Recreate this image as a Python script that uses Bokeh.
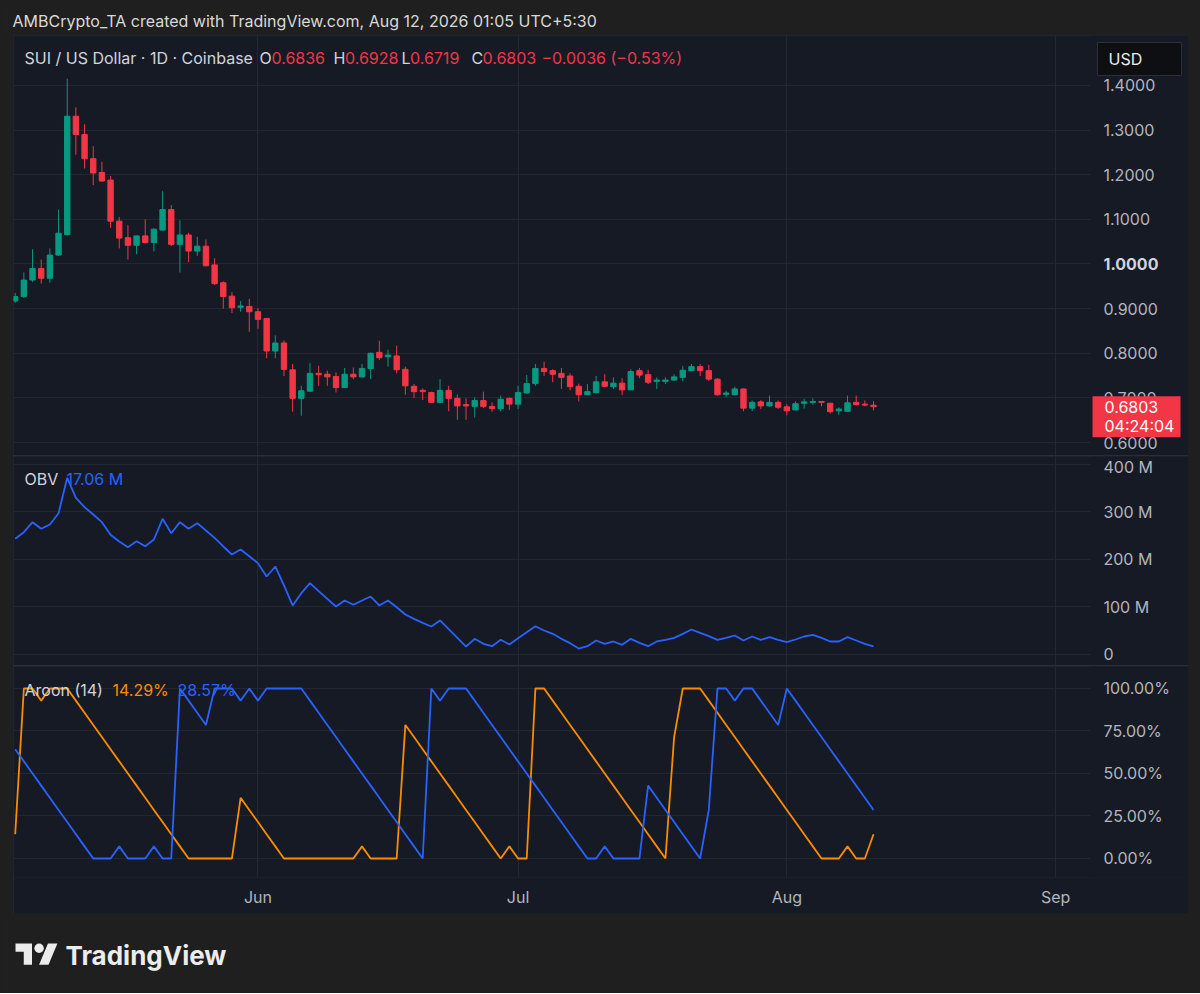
import pandas as pd
from bokeh.plotting import figure
from bokeh.models import (Range1d, FixedTicker, PrintfTickFormatter, DatetimeTickFormatter,
                          Label, ColumnDataSource, Spacer)
from bokeh.layouts import column, row
from bokeh.embed import file_html
from bokeh.resources import INLINE

# ---------------- data ----------------
start_date = "2026-05-04"

opens = [0.917, 0.927, 0.964, 0.990, 0.968, 1.020, 1.066, 1.331, 1.290, 1.236,
         1.205, 1.188, 1.096, 1.059, 1.042, 1.063, 1.048, 1.076, 1.122, 1.044,
         1.065, 1.029, 1.040, 0.998, 0.958, 0.928, 0.903, 0.905, 0.893, 0.878,
         0.805, 0.823, 0.763, 0.699, 0.715, 0.755, 0.753, 0.748, 0.723, 0.753,
         0.747, 0.766, 0.802, 0.792, 0.794, 0.764, 0.726, 0.717, 0.712, 0.690,
         0.717, 0.699, 0.685, 0.681, 0.694, 0.681, 0.676, 0.699, 0.686, 0.711,
         0.732, 0.766, 0.761, 0.755, 0.749, 0.726, 0.707, 0.712, 0.736, 0.725,
         0.733, 0.718, 0.761, 0.752, 0.737, 0.737, 0.740, 0.746, 0.761, 0.770,
         0.761, 0.742, 0.708, 0.707, 0.720, 0.677, 0.691, 0.682, 0.690, 0.680,
         0.673, 0.688, 0.690, 0.692, 0.688, 0.671, 0.670, 0.690, 0.686, 0.6836]
highs = [0.935, 0.981, 1.033, 1.010, 1.035, 1.122, 1.415, 1.351, 1.313, 1.264,
         1.229, 1.197, 1.105, 1.087, 1.064, 1.100, 1.080, 1.163, 1.132, 1.098,
         1.070, 1.061, 1.055, 1.013, 0.961, 0.937, 0.917, 0.922, 0.901, 0.878,
         0.840, 0.829, 0.776, 0.727, 0.778, 0.772, 0.761, 0.757, 0.767, 0.768,
         0.776, 0.801, 0.828, 0.808, 0.817, 0.770, 0.731, 0.721, 0.714, 0.742,
         0.727, 0.708, 0.699, 0.701, 0.714, 0.690, 0.705, 0.701, 0.727, 0.751,
         0.776, 0.781, 0.764, 0.767, 0.755, 0.732, 0.731, 0.749, 0.753, 0.746,
         0.744, 0.764, 0.767, 0.763, 0.746, 0.746, 0.753, 0.772, 0.776, 0.776,
         0.774, 0.744, 0.716, 0.725, 0.721, 0.694, 0.695, 0.705, 0.694, 0.686,
         0.692, 0.698, 0.699, 0.692, 0.689, 0.679, 0.705, 0.705, 0.694, 0.6928]
lows = [0.913, 0.924, 0.960, 0.956, 0.958, 1.018, 1.064, 1.245, 1.214, 1.177,
        1.184, 1.081, 1.035, 1.010, 1.022, 1.046, 1.028, 1.075, 1.040, 0.981,
        1.004, 1.018, 0.995, 0.953, 0.900, 0.890, 0.893, 0.848, 0.855, 0.789,
        0.789, 0.749, 0.669, 0.660, 0.714, 0.727, 0.727, 0.712, 0.722, 0.742,
        0.745, 0.742, 0.785, 0.770, 0.755, 0.707, 0.700, 0.695, 0.689, 0.689,
        0.670, 0.651, 0.651, 0.656, 0.677, 0.669, 0.670, 0.673, 0.675, 0.709,
        0.727, 0.749, 0.735, 0.720, 0.717, 0.692, 0.706, 0.710, 0.725, 0.720,
        0.706, 0.717, 0.744, 0.731, 0.720, 0.731, 0.738, 0.737, 0.760, 0.749,
        0.738, 0.705, 0.701, 0.706, 0.670, 0.671, 0.675, 0.680, 0.675, 0.661,
        0.672, 0.676, 0.685, 0.681, 0.665, 0.662, 0.669, 0.683, 0.681, 0.6719]
closes = [0.927, 0.964, 0.990, 0.968, 1.020, 1.069, 1.331, 1.290, 1.236, 1.204,
          1.186, 1.096, 1.058, 1.042, 1.063, 1.048, 1.078, 1.122, 1.044, 1.065,
          1.029, 1.040, 0.996, 0.956, 0.927, 0.902, 0.906, 0.893, 0.876, 0.805,
          0.823, 0.764, 0.699, 0.716, 0.755, 0.752, 0.747, 0.723, 0.753, 0.747,
          0.766, 0.800, 0.790, 0.796, 0.763, 0.727, 0.714, 0.714, 0.690, 0.717,
          0.699, 0.682, 0.682, 0.694, 0.681, 0.676, 0.697, 0.686, 0.712, 0.732,
          0.766, 0.759, 0.753, 0.746, 0.725, 0.707, 0.714, 0.736, 0.726, 0.733,
          0.718, 0.759, 0.751, 0.735, 0.740, 0.740, 0.747, 0.762, 0.770, 0.761,
          0.742, 0.707, 0.711, 0.720, 0.677, 0.690, 0.682, 0.690, 0.679, 0.671,
          0.687, 0.691, 0.692, 0.690, 0.669, 0.675, 0.689, 0.685, 0.6839, 0.6803]

obv_millions = [243.6, 257.5, 278.6, 264.6, 273.7, 297.5, 372.0, 329.9, 310.2, 294.7,
                278.6, 252.0, 237.9, 225.9, 238.6, 228.0, 242.1, 285.6, 255.4, 278.6,
                264.6, 276.5, 261.1, 245.6, 227.4, 210.5, 221.0, 206.9, 192.3, 164.2,
                185.3, 145.3, 103.2, 129.1, 150.2, 133.3, 117.2, 101.1, 113.7, 104.6,
                113.7, 122.1, 103.2, 113.7, 99.6, 84.2, 75.1, 66.7, 58.9, 71.6,
                53.3, 35.1, 16.8, 33.0, 22.5, 17.5, 30.9, 21.1, 34.4, 47.0,
                59.6, 50.5, 43.5, 33.0, 23.9, 12.6, 17.5, 29.5, 22.5, 27.4,
                20.4, 33.0, 24.6, 17.5, 27.4, 30.9, 35.1, 43.5, 52.6, 45.6,
                38.6, 30.9, 35.1, 40.0, 29.5, 37.9, 30.9, 36.5, 30.9, 25.9,
                31.6, 37.9, 41.5, 35.1, 27.4, 27.4, 36.5, 29.5, 22.5, 17.06]

aroon_up = [14.29, 100, 100, 92.86, 100, 100, 100, 92.86, 85.71, 78.57,
            71.43, 64.29, 57.14, 50, 42.86, 35.71, 28.57, 21.43, 14.29, 7.14,
            0, 0, 0, 0, 0, 0, 35.71, 28.57, 21.43, 14.29,
            7.14, 0, 0, 0, 0, 0, 0, 0, 0, 0,
            7.14, 0, 0, 0, 0, 78.57, 71.43, 64.29, 57.14, 50,
            42.86, 35.71, 28.57, 21.43, 14.29, 7.14, 0, 7.14, 0, 0,
            100, 100, 92.86, 85.71, 78.57, 71.43, 64.29, 57.14, 50, 42.86,
            35.71, 28.57, 21.43, 14.29, 7.14, 0, 71.43, 100, 100, 100,
            92.86, 85.71, 78.57, 71.43, 64.29, 57.14, 50, 42.86, 35.71, 28.57,
            21.43, 14.29, 7.14, 0, 0, 0, 7.14, 0, 0, 14.29]
aroon_down = [64.29, 57.14, 50, 42.86, 35.71, 28.57, 21.43, 14.29, 7.14, 0,
              0, 0, 7.14, 0, 0, 0, 7.14, 0, 0, 100,
              92.86, 85.71, 78.57, 100, 100, 100, 92.86, 100, 92.86, 100,
              100, 100, 100, 100, 92.86, 85.71, 78.57, 71.43, 64.29, 57.14,
              50, 42.86, 35.71, 28.57, 21.43, 14.29, 7.14, 0, 100, 92.86,
              100, 100, 100, 92.86, 85.71, 78.57, 71.43, 64.29, 57.14, 50,
              42.86, 35.71, 28.57, 21.43, 14.29, 7.14, 0, 0, 7.14, 0,
              0, 0, 0, 42.86, 35.71, 28.57, 21.43, 14.29, 7.14, 0,
              28.57, 100, 100, 92.86, 100, 100, 92.86, 85.71, 78.57, 100,
              92.86, 85.71, 78.57, 71.43, 64.29, 57.14, 50, 42.86, 35.71, 28.57]

price_ticks = [0.6, 0.7, 0.8, 0.9, 1.0, 1.1, 1.2, 1.3, 1.4]
obv_ticks = [0, 100, 200, 300, 400]
obv_tick_labels = ["0", "100 M", "200 M", "300 M", "400 M"]
aroon_ticks = [0, 25, 50, 75, 100]
month_starts = ["2026-06-01", "2026-07-01", "2026-08-01", "2026-09-01"]

page_header = "AMBCrypto_TA created with TradingView.com, Aug 12, 2026 01:05 UTC+5:30"
symbol_title = "SUI / US Dollar \u00b7 1D \u00b7 Coinbase"
countdown = "04:24:04"

# ---------------- style / layout ----------------
OUTER = "#1f1f1f"
BG = "#161a25"
GRID = "#232733"
SEP = "#2a2e39"
TXT = "#b2b5be"
LEG = "#d1d4dc"
UP = "#089981"
DOWN = "#f23645"
BLUE = "#2962ff"
ORANGE = "#fb8c00"
FONT = "Inter"
FS = "16px"

PAGE_W = 1200
LEFT_PAD = 13
CHART_W = 1175          # whole pane incl. price scale
MAIN_W = 1077           # plotting area left of the price scale
H_HEAD, H_PRICE, H_OBV, H_AROON, H_FOOT = 35, 420, 209, 247, 80
AROON_FRAME = 211
PX_PER_DAY = 8.67
FIRST_OFFSET_PX = 1.7   # first candle centre from the pane's left edge

DAY_MS = 86400000
t0_ms = pd.Timestamp(start_date).value / 1e6
dates = pd.date_range(start_date, periods=len(opens), freq="D")
month_ms = [pd.Timestamp(m).value / 1e6 for m in month_starts]


def x_at(px):
    return t0_ms + (px - FIRST_OFFSET_PX) / PX_PER_DAY * DAY_MS


xr = Range1d(start=x_at(0), end=x_at(CHART_W))
AXIS_X = x_at(MAIN_W)

src = ColumnDataSource(dict(
    date=dates, high=highs, low=lows,
    top=[max(o, c) for o, c in zip(opens, closes)],
    bottom=[min(o, c) for o, c in zip(opens, closes)],
    color=[UP if c >= o else DOWN for o, c in zip(opens, closes)],
    obv=obv_millions, aup=aroon_up, adn=aroon_down))


def style_axis(ax):
    ax.axis_line_color = None
    ax.major_tick_line_color = None
    ax.minor_tick_line_color = None
    ax.major_tick_in = 0
    ax.major_tick_out = 0
    ax.minor_tick_in = 0
    ax.minor_tick_out = 0
    ax.major_label_text_color = TXT
    ax.major_label_text_font = FONT
    ax.major_label_text_font_size = FS


def pane(height, y0, y1, ticks, bottom=0, with_xaxis=False):
    p = figure(width=CHART_W, height=height, x_axis_type="datetime",
               x_axis_location="below" if with_xaxis else None,
               y_axis_location="right", x_range=xr, y_range=Range1d(y0, y1),
               output_backend="svg", toolbar_location=None,
               background_fill_color=BG, border_fill_color=BG, outline_line_color=None,
               min_border_left=0, min_border_right=0, min_border_top=0,
               min_border_bottom=bottom)
    p.xgrid.ticker = FixedTicker(ticks=month_ms)
    p.grid.grid_line_color = GRID
    ax = p.yaxis[0]
    ax.ticker = FixedTicker(ticks=ticks)
    ax.fixed_location = AXIS_X
    style_axis(ax)
    ax.major_label_standoff = 13
    # price-scale strip: plain background (grid lines stop at the scale)
    span = y1 - y0
    p.quad(left=[AXIS_X], right=[x_at(CHART_W + 20)], bottom=[y0 - span], top=[y1 + span],
           fill_color=BG, line_color=None)
    if with_xaxis:
        xa = p.xaxis[0]
        xa.ticker = FixedTicker(ticks=month_ms)
        xa.formatter = DatetimeTickFormatter(days="%b", months="%b", years="%b")
        style_axis(xa)
        xa.major_label_standoff = 9
    return p


def y_at(p, px, frame_h=None):
    h = frame_h if frame_h else p.height
    r = p.y_range
    return r.end - px / h * (r.end - r.start)


def text(p, x, y, s, color, size=FS, bold=False, level="annotation"):
    p.add_layout(Label(x=x, y=y, x_units="screen", y_units="data", text=s,
                       text_color=color, text_font=FONT, text_font_size=size,
                       text_font_style="bold" if bold else "normal",
                       text_baseline="middle", text_align="left", level=level))


def box(p, px0, px1, py0, py1, fill, line=None):
    p.quad(left=[x_at(px0)], right=[x_at(px1)], top=[y_at(p, py0)], bottom=[y_at(p, py1)],
           fill_color=fill, line_color=line, level="annotation")


# ---------------- price pane ----------------
price = pane(H_PRICE, 0.5709, 1.5120, price_ticks)
price.yaxis[0].formatter = PrintfTickFormatter(format="%.4f")
price.yaxis[0].major_label_overrides = {1: ""}
price.segment(x0="date", y0="low", x1="date", y1="high", color="color", line_width=1, source=src)
price.vbar(x="date", width=0.62 * DAY_MS, top="top", bottom="bottom",
           fill_color="color", line_color="color", line_width=1, source=src)

text(price, MAIN_W + 13, 1.0, "1.0000", LEG, bold=True)

ly = y_at(price, 22)
text(price, 11, ly, symbol_title, LEG)
chg = closes[-1] - closes[-2]
pct = chg / closes[-2] * 100
ohlc_col = UP if closes[-1] >= opens[-1] else DOWN
for lx, letter, vx, val in [(246, "O", 258, opens[-1]), (320, "H", 331.5, highs[-1]),
                            (388, "L", 396.5, lows[-1]), (458, "C", 469, closes[-1])]:
    text(price, lx, ly, letter, LEG)
    text(price, vx, ly, f"{val:.4f}", ohlc_col)
text(price, 528, ly, f"{chg:+.4f} ({pct:+.2f}%)".replace("-", "\u2212"), ohlc_col)

# currency button and last-price tag on the price scale
box(price, 1084, 1168, 7, 40, "#0e0f12", "#2c2f38")
text(price, 1095, y_at(price, 23.5), "USD", "#ececec", level="overlay")
box(price, 1079, 1167, 360.7, 401.7, DOWN)
text(price, 1091, y_at(price, 371), f"{closes[-1]:.4f}", "#ffffff", level="overlay")
text(price, 1091, y_at(price, 390), countdown, "#ffffff", level="overlay")

# ---------------- OBV pane ----------------
obv = pane(H_OBV, -23.16, 416.84, obv_ticks)
obv.yaxis[0].major_label_overrides = dict(zip(obv_ticks, obv_tick_labels))
obv.line("date", "obv", source=src, color=BLUE, line_width=1.8)
oy = y_at(obv, 22)
text(obv, 11, oy, "OBV", LEG)
text(obv, 53, oy, f"{obv_millions[-1]:.2f} M", BLUE)

# ---------------- Aroon pane ----------------
aroon = pane(H_AROON, -11.18, 112.94, aroon_ticks, bottom=H_AROON - AROON_FRAME, with_xaxis=True)
aroon.yaxis[0].formatter = PrintfTickFormatter(format="%.2f%%")
aroon.line("date", "aup", source=src, color=ORANGE, line_width=1.8)
aroon.line("date", "adn", source=src, color=BLUE, line_width=1.8)
ay = y_at(aroon, 23, AROON_FRAME)
text(aroon, 11, ay, "Aroon (14)", LEG)
text(aroon, 99, ay, f"{aroon_up[-1]:.2f}%", ORANGE)
text(aroon, 164, ay, f"{aroon_down[-1]:.2f}%", BLUE)


# ---------------- page header / footer ----------------
def deco(width, height):
    p = figure(width=width, height=height, x_range=Range1d(0, width), y_range=Range1d(height, 0),
               x_axis_location=None, y_axis_location=None, output_backend="svg",
               toolbar_location=None, background_fill_color=OUTER, border_fill_color=OUTER,
               outline_line_color=None, min_border=0)
    p.grid.visible = False
    return p


head = deco(PAGE_W, H_HEAD)
head.add_layout(Label(x=12, y=20, text=page_header, text_color="#d9d9d9", text_font=FONT,
                      text_font_size=FS, text_baseline="middle", text_align="left"))

foot = deco(PAGE_W, H_FOOT)
s, ox, oy0 = 1.18, 15, 25.3
logo_t = [(0, 4), (14, 4), (14, 22), (7, 22), (7, 11), (0, 11)]
logo_v = [(27.5, 4), (35.5, 4), (28, 22), (20, 22)]
for shape in (logo_t, logo_v):
    foot.patch([ox + s * u for u, v in shape], [oy0 + s * v for u, v in shape],
               color="#ececec", line_width=0)
foot.circle(x=[ox + s * 20], y=[oy0 + s * 8], radius=s * 4, color="#ececec", line_width=0)
foot.add_layout(Label(x=65, y=42, text="TradingView", text_color="#ececec", text_font=FONT,
                      text_font_size="26px", text_font_style="bold",
                      text_baseline="middle", text_align="left"))

chart = column(price, obv, aroon, spacing=1, styles={"background-color": SEP})
root = column(head,
              row(Spacer(width=LEFT_PAD, height=H_PRICE + H_OBV + H_AROON + 2), chart,
                  styles={"background-color": OUTER}),
              foot, styles={"background-color": OUTER})

html = file_html(root, INLINE, title="SUI / US Dollar")
html = html.replace("<body>", '<body style="background-color:%s;">' % OUTER, 1)
open("out.html", "w").write(html)
